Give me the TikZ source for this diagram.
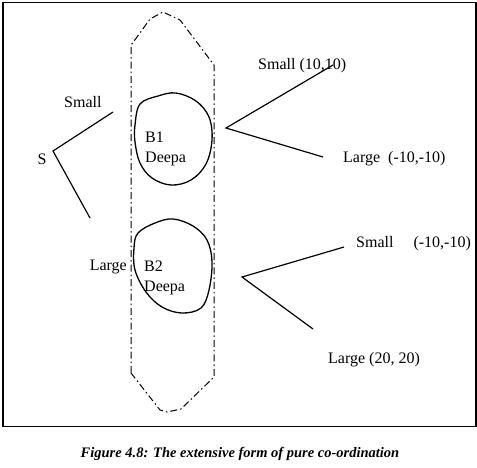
\documentclass[tikz,border=0pt]{standalone}
\usepackage{fontspec}
\setmainfont{Liberation Serif}
\begin{document}
\begin{tikzpicture}[x=1pt,y=-1pt,
  lbl/.style={inner sep=0pt,font=\fontsize{16}{18}\selectfont},
  branch/.style={line width=1.2pt},
  blob/.style={line width=1.3pt},
  infoset/.style={line width=1pt,dash pattern=on 7pt off 3pt on 1.5pt off 3pt}]
\useasboundingbox (0,0) rectangle (477,467);
\fill[white] (0,0) rectangle (477,467);
\draw[line width=1.3pt] (3,2.5) rectangle (476,426.5);
% information set
\draw[infoset] (131,373) -- (131,45) -- (137,37) -- (150,19) -- (163,12) -- (180,20) -- (214,65) -- (214,377) -- (181,409) -- (167,412) -- (160,410) -- cycle;
% B1 and B2 blobs
\draw[blob] plot[smooth cycle,tension=0.6] coordinates {(140,104) (158,96) (176,93) (196,101) (209,117) (212,140) (206,164) (191,180) (171,185) (152,178) (140,163) (135,142) (135,125)};
\draw[blob] plot[smooth cycle,tension=0.6] coordinates {(138,233) (155,223) (173,219) (193,226) (207,240) (212,262) (209,290) (201,308) (182,313) (162,307) (146,292) (135,270) (134,248)};
% labels
\node[lbl] (S) at (42,159) {S};
\node[lbl,anchor=west] (sm1) at (64,102) {Small};
\node[lbl,anchor=east] (lg1) at (127,267) {Large};
\node[lbl,anchor=west] (b1) at (145,137) {B1};
\node[lbl,anchor=west] (d1) at (145,159) {Deepa};
\node[lbl,anchor=west] (b2) at (144,266) {B2};
\node[lbl,anchor=west] (d2) at (144,288) {Deepa};
\node[lbl,anchor=west] (p1) at (258,66) {Small (10,10)};
\node[lbl,anchor=west] (p2) at (343,159) {Large\enspace (-10,-10)};
\node[lbl,anchor=west] (p3) at (356,244) {Small\quad\ (-10,-10)};
\node[lbl,anchor=west] (p4) at (328,360) {Large (20, 20)};
% tree branches
\coordinate (s0) at (53,151);
\coordinate (s1) at (113,112);
\coordinate (s2) at (90,218);
\coordinate (u0) at (226,128);
\coordinate (u1) at (333,65);
\coordinate (u2) at (323,157);
\coordinate (v0) at (242,277);
\coordinate (v1) at (344,247);
\coordinate (v2) at (313,329);
\draw[branch] (s1) -- (s0) -- (s2);
\draw[branch] (u1) -- (u0) -- (u2);
\draw[branch] (v1) -- (v0) -- (v2);
% caption
\node[inner sep=0pt,font=\fontsize{14.5}{16}\selectfont\bfseries\itshape] (cap) at (240,454) {Figure 4.8: The extensive form of pure co-ordination};
\end{tikzpicture}
\end{document}
